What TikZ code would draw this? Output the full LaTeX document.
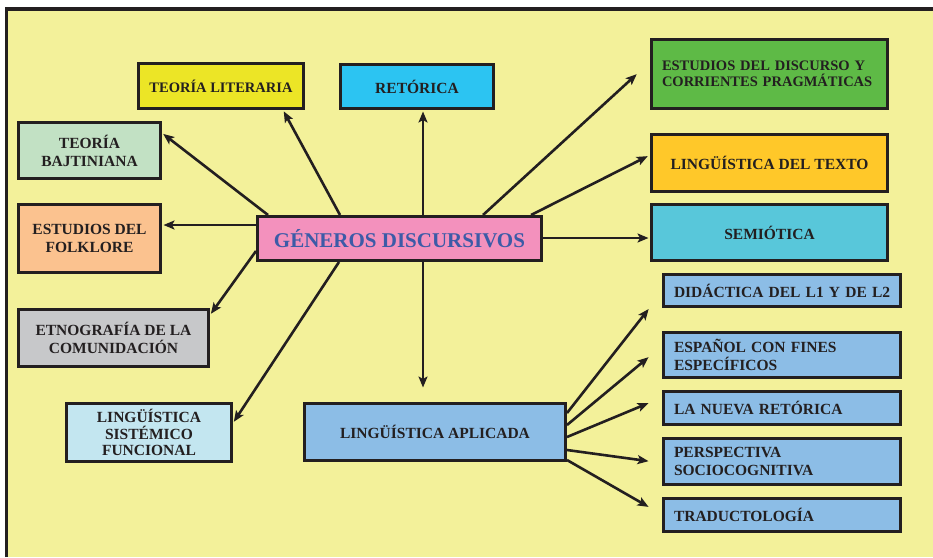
\documentclass[tikz,border=0pt]{standalone}
\usepackage{fontspec}
\setmainfont{Liberation Serif}
\usetikzlibrary{arrows.meta}
\definecolor{bgyel}{HTML}{F3F19A}
\definecolor{edge}{HTML}{231F20}
\definecolor{clit}{HTML}{ECE526}
\definecolor{cret}{HTML}{2CC4F2}
\definecolor{cbaj}{HTML}{C2E1C4}
\definecolor{cfol}{HTML}{FBC28F}
\definecolor{cetn}{HTML}{C7C8CA}
\definecolor{csis}{HTML}{C3E6F0}
\definecolor{cgen}{HTML}{F391BD}
\definecolor{tgen}{HTML}{3C5BA7}
\definecolor{cdis}{HTML}{5EBA46}
\definecolor{ctex}{HTML}{FFC829}
\definecolor{csem}{HTML}{58C7DA}
\definecolor{cblu}{HTML}{8CBDE6}
\tikzset{
  box/.style={draw=edge, line width=3pt, rectangle, inner sep=0pt, align=center,
    text=edge, font=\fontsize{15.5}{18}\selectfont\bfseries},
  leftbox/.style={box, align=left, inner xsep=10.5pt, text width=#1},
  arr/.style={draw=edge, line width=2.6pt, -{Stealth[length=11pt,width=9pt,inset=2.5pt]}, shorten >=1.5pt},
}
\begin{document}
\begin{tikzpicture}[x=1pt,y=-1pt]
\useasboundingbox (0,0) rectangle (933,557);
\fill[white] (0,0) rectangle (933,557);
\fill[bgyel] (6.5,9) rectangle (933,557);
\draw[edge, line width=3.5pt] (6.5,557) -- (6.5,9) -- (933,9);

% central node
\node[box, fill=cgen, minimum width=284, minimum height=44, text=tgen,
  font=\fontsize{21}{24}\selectfont\bfseries] (gen) at (399.5,238.5) {GÉNEROS DISCURSIVOS};

% left side
\node[box, fill=clit, minimum width=165, minimum height=45,
  font=\fontsize{14.5}{17}\selectfont\bfseries] (lit) at (221,86) {TEORÍA LITERARIA};
\node[box, fill=cret, minimum width=153, minimum height=44] (ret) at (417,86.5) {RETÓRICA};
\node[box, fill=cbaj, minimum width=142, minimum height=56] (baj) at (89.5,150.5) {TEORÍA\\BAJTINIANA};
\node[box, fill=cfol, minimum width=142, minimum height=68] (fol) at (89.5,238.5) {ESTUDIOS DEL\\FOLKLORE};
\node[box, fill=cetn, minimum width=190, minimum height=57] (etn) at (113.5,338) {ETNOGRAFÍA DE LA\\COMUNIDACIÓN};
\node[box, fill=csis, minimum width=165, minimum height=58,
  font=\fontsize{15.5}{16.8}\selectfont\bfseries] (sis) at (149,432.5) {LINGÜÍSTICA\\SISTÉMICO\\FUNCIONAL};

% right side
\node[leftbox=215, fill=cdis, minimum height=69,
  font=\fontsize{14.5}{16.5}\selectfont\bfseries] (dis) at (769.5,74) {\mbox{ESTUDIOS DEL DISCURSO Y}\\\mbox{CORRIENTES PRAGMÁTICAS}};
\node[box, fill=ctex, minimum width=236, minimum height=57] (tex) at (769.5,163) {LINGÜÍSTICA DEL TEXTO};
\node[box, fill=csem, minimum width=236, minimum height=56] (sem) at (769.5,232.5) {SEMIÓTICA};

\node[box, fill=cblu, minimum width=261, minimum height=57] (apl) at (435,432) {LINGÜÍSTICA APLICADA};

\node[leftbox=216, fill=cblu, minimum height=32] (did) at (782,290.5) {\mbox{DIDÁCTICA DEL L1 Y DE L2}};
\node[leftbox=216, fill=cblu, minimum height=45] (esp) at (782,355) {\mbox{ESPAÑOL CON FINES}\\\mbox{ESPECÍFICOS}};
\node[leftbox=216, fill=cblu, minimum height=33] (nue) at (782,408) {\mbox{LA NUEVA RETÓRICA}};
\node[leftbox=216, fill=cblu, minimum height=46] (per) at (782,461.5) {\mbox{PERSPECTIVA}\\\mbox{SOCIOCOGNITIVA}};
\node[leftbox=216, fill=cblu, minimum height=33] (tra) at (782,515) {\mbox{TRADUCTOLOGÍA}};

% connectors from the central node
\draw[arr] (340,0 |- gen.north) -- (283,0 |- lit.south);
\draw[arr] (268,0 |- gen.north) -- (baj.east |- 0,133);
\draw[arr] (gen.west |- 0,225) -- (fol.east |- 0,225);
\draw[arr] (gen.west |- 0,251) -- (etn.east |- 0,315);
\draw[arr] (339,0 |- gen.south) -- (sis.east |- 0,423);
\draw[arr] (423,0 |- gen.north) -- (423,0 |- ret.south);
\draw[arr, shorten >=14.5pt] (423,0 |- gen.south) -- (423,0 |- apl.north);
\draw[arr, shorten >=18pt] (483,0 |- gen.north) -- (dis.west |- 0,62);
\draw[arr, shorten >=2.5pt] (531,0 |- gen.north) -- (tex.west |- 0,155);
\draw[arr] (gen.east |- 0,238) -- (sem.west |- 0,238);

% connectors from LINGÜÍSTICA APLICADA
\draw[arr, shorten >=21.6pt] (apl.east |- 0,413) -- (did.west |- 0,292);
\draw[arr, shorten >=17.5pt] (apl.east |- 0,425) -- (esp.west |- 0,346);
\draw[arr, shorten >=14.6pt] (apl.east |- 0,437) -- (nue.west |- 0,397.5);
\draw[arr, shorten >=13.6pt] (apl.east |- 0,450) -- (per.west |- 0,463);
\draw[arr, shorten >=15.5pt] (apl.east |- 0,460) -- (tra.west |- 0,514.6);
\end{tikzpicture}
\end{document}
